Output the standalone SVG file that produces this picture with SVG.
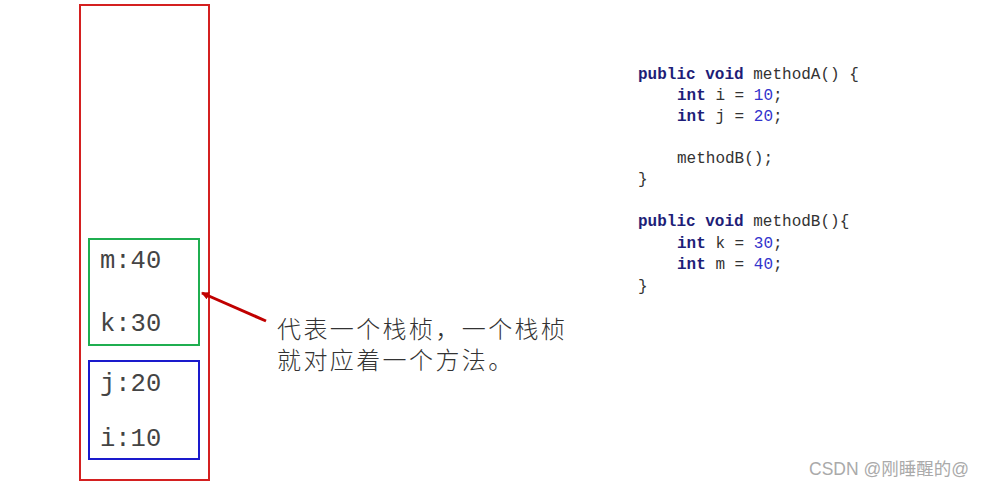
<svg xmlns="http://www.w3.org/2000/svg" width="991" height="487" viewBox="0 0 991 487">
<style>
.frame{fill:none;stroke-width:2}
.var{font-family:"Liberation Mono","Courier New",monospace;font-size:25.5px;fill:#444}
.note{font-family:"Noto Sans CJK SC",sans-serif;font-size:24px;letter-spacing:2.4px;fill:#333;font-weight:300}
.code{font-family:"Liberation Mono","DejaVu Sans Mono",monospace;font-size:16px;fill:#333}
.kw{fill:#1e1e78;font-weight:bold}
.num{fill:#3333cc}
.wm{font-family:"Liberation Sans","Noto Sans CJK SC",sans-serif;font-size:17.5px;fill:#aaa}
</style>
<defs>
<marker id="ah" markerWidth="8" markerHeight="8" refX="7" refY="4" orient="auto" markerUnits="userSpaceOnUse">
<path d="M0,0 L8,4 L0,8 Z" fill="#c00000"/>
</marker>
</defs>
<rect width="991" height="487" fill="#fff"/>
<g id="stack">
<rect class="frame" x="80" y="5" width="129" height="475" stroke="#d42020"/>
</g>
<g id="frameB">
<rect class="frame" x="89" y="239" width="110" height="106" stroke="#1fae50"/>
<text class="var" x="100" y="268">m:40</text>
<text class="var" x="100" y="331">k:30</text>
</g>
<g id="frameA">
<rect class="frame" x="89" y="361" width="110" height="98" stroke="#1a1acc"/>
<text class="var" x="100" y="391">j:20</text>
<text class="var" x="100" y="446">i:10</text>
</g>
<g id="connectors">
<line x1="266" y1="321" x2="202" y2="293" stroke="#c00000" stroke-width="3" marker-end="url(#ah)"/>
</g>
<g id="note">
<text class="note" x="277" y="338">代表一个栈桢，一个栈桢</text>
<text class="note" x="277" y="369">就对应着一个方法。</text>
</g>
<g id="code">
<text class="code" x="638" y="79"><tspan class="kw">public void</tspan> methodA() {</text>
<text class="code" x="677" y="100"><tspan class="kw">int</tspan> i = <tspan class="num">10</tspan>;</text>
<text class="code" x="677" y="121"><tspan class="kw">int</tspan> j = <tspan class="num">20</tspan>;</text>
<text class="code" x="677" y="163">methodB();</text>
<text class="code" x="638" y="184">}</text>
<text class="code" x="638" y="226"><tspan class="kw">public void</tspan> methodB(){</text>
<text class="code" x="677" y="248"><tspan class="kw">int</tspan> k = <tspan class="num">30</tspan>;</text>
<text class="code" x="677" y="269"><tspan class="kw">int</tspan> m = <tspan class="num">40</tspan>;</text>
<text class="code" x="638" y="291">}</text>
</g>
<text class="wm" x="809" y="475">CSDN @刚睡醒的@</text>
</svg>
